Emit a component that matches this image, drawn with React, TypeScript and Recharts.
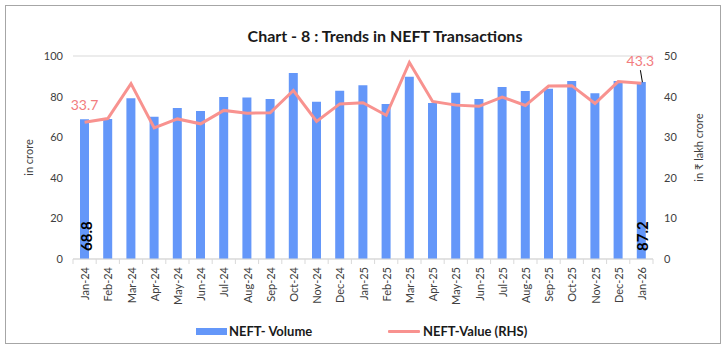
import React from "react";
import {
  ComposedChart,
  Bar,
  Line,
  XAxis,
  YAxis,
  CartesianGrid,
  LabelList,
  Label,
} from "recharts";

const months = [
  "Jan-24", "Feb-24", "Mar-24", "Apr-24", "May-24", "Jun-24", "Jul-24", "Aug-24",
  "Sep-24", "Oct-24", "Nov-24", "Dec-24", "Jan-25", "Feb-25", "Mar-25", "Apr-25",
  "May-25", "Jun-25", "Jul-25", "Aug-25", "Sep-25", "Oct-25", "Nov-25", "Dec-25", "Jan-26",
];

const volume = [
  68.8, 69.0, 79.2, 70.1, 74.4, 72.9, 79.8, 79.6,
  78.8, 91.6, 77.5, 82.9, 85.6, 76.4, 89.8, 76.8,
  81.9, 78.8, 84.7, 82.8, 83.9, 87.7, 81.6, 87.7, 87.2,
];

const value = [
  33.7, 34.6, 43.2, 32.3, 34.5, 33.3, 36.6, 35.9,
  36.0, 41.5, 33.9, 38.2, 38.5, 35.4, 48.4, 38.8,
  37.9, 37.6, 39.9, 37.8, 42.6, 42.7, 38.3, 43.7, 43.3,
];

const leftTicks = [0, 20, 40, 60, 80, 100];
const rightTicks = [0, 10, 20, 30, 40, 50];

const data = months.map((m, i) => ({ month: m, volume: volume[i], value: value[i] }));

const FONT = "Lato, 'Noto Sans', 'Liberation Sans', sans-serif";
const BAR_COLOR = "#6497F9";
const LINE_COLOR = "#F8928F";
const LINE_LABEL = "#F27C7E";
const HALF_BAND = 11.6;
const LAST = months.length - 1;

const XTick = (props: any) => {
  const { x, y, payload, index } = props;
  return (
    <g>
      {index === 0 && (
        <line x1={x - HALF_BAND} x2={x - HALF_BAND} y1={y} y2={y + 5} stroke="#d9d9d9" />
      )}
      <line x1={x + HALF_BAND} x2={x + HALF_BAND} y1={y} y2={y + 5} stroke="#d9d9d9" />
      <text
        x={x}
        y={y + 8}
        transform={`rotate(-90 ${x} ${y + 8})`}
        textAnchor="end"
        dominantBaseline="central"
        fontSize={11}
        fontFamily={FONT}
        fill="#404040"
      >
        {payload.value}
      </text>
    </g>
  );
};

const BarEndLabel = (props: any) => {
  const { x, y, width, height, value: v, index } = props;
  if (index !== 0 && index !== LAST) return null;
  const cx = x + width / 2 + 1;
  const by = y + height - 8;
  return (
    <text
      x={cx}
      y={by}
      transform={`rotate(-90 ${cx} ${by})`}
      textAnchor="start"
      dominantBaseline="central"
      fontSize={15}
      fontWeight="bold"
      fontFamily={FONT}
      fill="#000"
    >
      {Number(v).toFixed(1)}
    </text>
  );
};

const LineEndLabel = (props: any) => {
  const { x, y, value: v, index } = props;
  if (index === 0) {
    return (
      <text x={x} y={y - 18} textAnchor="middle" dominantBaseline="central" fontSize={14} fontFamily={FONT} fill={LINE_LABEL}>
        {Number(v).toFixed(1)}
      </text>
    );
  }
  if (index === LAST) {
    return (
      <g>
        <line x1={x - 1} y1={y - 13} x2={x + 1} y2={y - 1} stroke="#000" strokeWidth={1} />
        <text x={x - 1} y={y - 23} textAnchor="middle" dominantBaseline="central" fontSize={14} fontFamily={FONT} fill={LINE_LABEL}>
          {Number(v).toFixed(1)}
        </text>
      </g>
    );
  }
  return null;
};

export default function App() {
  return (
    <div style={{ position: "absolute", left: 0, top: 0, width: 725, height: 349, background: "#fff", fontFamily: FONT }}>
      <div
        style={{
          position: "absolute",
          left: 5,
          top: 5,
          width: 716,
          height: 339,
          boxSizing: "border-box",
          border: "1px solid #a6a6a6",
        }}
      />
      <div
        style={{
          position: "absolute",
          left: 0,
          width: 770,
          top: 26,
          textAlign: "center",
          fontSize: 16,
          fontWeight: "bold",
          color: "#1a1a1a",
          lineHeight: "20px",
        }}
      >
        Chart - 8 : Trends in NEFT Transactions
      </div>
      <div style={{ position: "absolute", left: 0, top: 0 }}>
        <ComposedChart
          width={725}
          height={349}
          data={data}
          margin={{ top: 56, right: 22, bottom: 40, left: 13 }}
        >
          <CartesianGrid vertical={false} stroke="#d9d9d9" />
          <XAxis
            dataKey="month"
            height={50}
            interval={0}
            tickLine={false}
            tickSize={0}
            tickMargin={0}
            stroke="#d9d9d9"
            tick={<XTick />}
          />
          <YAxis
            yAxisId="left"
            orientation="left"
            width={60}
            domain={[0, 100]}
            ticks={leftTicks}
            axisLine={false}
            tickLine={false}
            tickSize={0}
            tickMargin={10}
            tick={{ fontSize: 11, fill: "#404040", fontFamily: FONT }}
          >
            <Label
              content={(p: any) => {
                const vb = p.viewBox;
                const lx = vb.x + 15;
                const ly = vb.y + vb.height / 2;
                return (
                  <text x={lx} y={ly} transform={`rotate(-90 ${lx} ${ly})`} textAnchor="middle" dominantBaseline="central" fontSize={11} fontFamily={FONT} fill="#404040">
                    in crore
                  </text>
                );
              }}
            />
          </YAxis>
          <YAxis
            yAxisId="right"
            orientation="right"
            width={50}
            domain={[0, 50]}
            ticks={rightTicks}
            axisLine={false}
            tickLine={false}
            tickSize={0}
            tickMargin={11}
            tick={{ fontSize: 11, fill: "#404040", fontFamily: FONT }}
          >
            <Label
              content={(p: any) => {
                const vb = p.viewBox;
                const lx = vb.x + 45.5;
                const ly = vb.y + vb.height / 2 - 10;
                return (
                  <text x={lx} y={ly} transform={`rotate(-90 ${lx} ${ly})`} textAnchor="middle" dominantBaseline="central" fontSize={11} fontFamily={FONT} fill="#404040">
                    in ₹ lakh crore
                  </text>
                );
              }}
            />
          </YAxis>
          <Bar yAxisId="left" dataKey="volume" fill={BAR_COLOR} barSize={9} isAnimationActive={false}>
            <LabelList dataKey="volume" content={<BarEndLabel />} />
          </Bar>
          <Line
            yAxisId="right"
            dataKey="value"
            type="linear"
            stroke={LINE_COLOR}
            strokeWidth={3}
            dot={false}
            activeDot={false}
            isAnimationActive={false}
          >
            <LabelList dataKey="value" content={<LineEndLabel />} />
          </Line>
        </ComposedChart>
      </div>
      <div style={{ position: "absolute", left: 196, top: 328, width: 31, height: 7, background: BAR_COLOR }} />
      <div
        style={{ position: "absolute", left: 229, top: 322, fontSize: 13, fontWeight: "bold", color: "#1a1a1a", lineHeight: "18px", whiteSpace: "nowrap" }}
      >
        NEFT- Volume
      </div>
      <div style={{ position: "absolute", left: 388, top: 330, width: 32, height: 3, background: LINE_COLOR, borderRadius: 1 }} />
      <div
        style={{ position: "absolute", left: 423, top: 322, fontSize: 13, fontWeight: "bold", color: "#1a1a1a", lineHeight: "18px", whiteSpace: "nowrap" }}
      >
        NEFT-Value (RHS)
      </div>
    </div>
  );
}
